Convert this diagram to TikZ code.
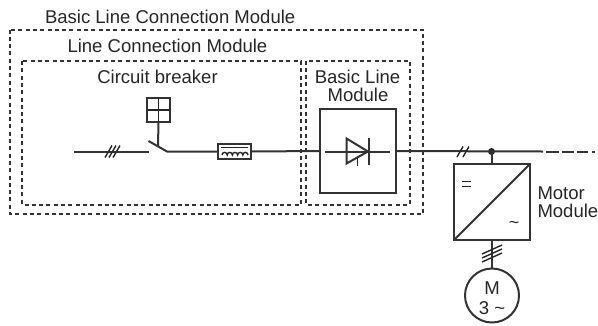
\documentclass[tikz,border=0pt]{standalone}
\usepackage{fontspec}
\setmainfont{Liberation Sans}
\tikzset{
 x=1bp,y=-1bp,
 wire/.style={line width=2bp,color=black!80},
 thin wire/.style={line width=1.4bp,color=black!85},
 dashbox/.style={line width=2bp,color=black!80,dash pattern=on 4bp off 3.3bp},
 solidbox/.style={draw,line width=2bp,color=black!80,inner sep=0pt,outer sep=0pt},
 lbl/.style={inner sep=0pt,outer sep=0pt,text=black!85,font=\fontsize{18.6}{18.6}\selectfont,anchor=base},
 lblw/.style={lbl,anchor=base west},
}
\begin{document}
\begin{tikzpicture}
\useasboundingbox (0,0) rectangle (598,325);
% dashed frames
\draw[dashbox] (10,29.5) rectangle (423,214);
\draw[dashbox] (22,61) rectangle (301,204.5);
\draw[dashbox] (306,60.5) rectangle (410,204.5);
% labels
\node[lblw] (t1) at (45,23) {Basic Line Connection Module};
\node[lblw] (t2) at (67.5,52) {Line Connection Module};
\node[lbl] (t3) at (157.5,83) {Circuit breaker};
\node[lbl] (t4) at (357.5,83) {Basic Line};
\node[lbl] (t5) at (358,101.5) {Module};
\node[lblw] (t6) at (537.5,199.5) {Motor};
\node[lblw] (t7) at (537.5,217) {Module};
% coordinates on the main line
\coordinate (start) at (74,151.5);
\coordinate (swL) at (149,151.5);
\coordinate (swR) at (167,151.5);
\coordinate (swT) at (148.5,141);
\coordinate (lineEnd) at (543,151.5);
% main components
\node[solidbox,minimum width=33bp,minimum height=15bp] (fuse) at (234.5,151.5) {};
\node[solidbox,minimum width=76bp,minimum height=84bp] (blm) at (358,151) {};
\node[solidbox,minimum width=76bp,minimum height=76bp] (mm) at (492,202) {};
\node[solidbox,circle,minimum size=54bp] (motor) at (492,295.5) {};
\node[solidbox,minimum width=23bp,minimum height=24bp,line width=1.6bp] (brk) at (158.5,110) {};
\node[fill=black!85,circle,inner sep=0pt,minimum size=7bp] (dot) at (491.5,151.5) {};
% wires
\draw[wire] (start) -- (swL);
\draw[wire] (swT) -- (swR) -- (fuse.west);
\draw[wire] (fuse.east) -- (blm.west);
\draw[wire] (blm.east) -- (lineEnd);
\draw[wire] (dot.center) -- (mm.north-|dot);
\draw[wire] (brk.south) -- (158,146);
\draw[thin wire] (brk.north) -- (brk.south);
\draw[thin wire] (brk.west) -- (brk.east);
\draw[wire] (546,151.5) -- (559,151.5);
\draw[wire] (561.5,151.5) -- (574,151.5);
\draw[wire] (577,151.5) -- (588,151.5);
\draw[wire] (592,151.5) -- (595,151.5);
% slashes
\foreach \d in {0,4,8}{\draw[thin wire] (105+\d,157.5) -- (112+\d,145.5);}
\foreach \d in {0,6}{\draw[thin wire] (457+\d,157) -- (463+\d,146.5);}
% fuse coil
\draw[thin wire] (221,147.5) -- (248,147.5);
\draw[thin wire] (222,155) arc[start angle=180,end angle=0,radius=2.6bp]
  arc[start angle=180,end angle=0,radius=2.6bp]
  arc[start angle=180,end angle=0,radius=2.6bp]
  arc[start angle=180,end angle=0,radius=2.6bp]
  arc[start angle=180,end angle=0,radius=2.6bp];
% diode
\draw[wire] (325,151.5) -- (390,151.5);
\draw[wire] (346.5,138.5) -- (346.5,163.5) -- (368,151.5) -- cycle;
\draw[wire] (369,138) -- (369,164.5);
\draw[thin wire] (357.5,157.5) -- (357.5,165.5);
% motor module interior
\draw[wire] (mm.south west) -- (mm.north east);
\draw[thin wire] (462,181.5) -- (471,181.5) (462,186.5) -- (471,186.5);
\node[lbl,font=\fontsize{18}{18}\selectfont] (tilde) at (514,228) {\textasciitilde};
% motor feed
\draw[wire] (mm.south-|motor) -- (motor.north);
\foreach \d in {0,4,8}{\draw[thin wire] (482,254+\d) -- (502,245+\d);}
\node[lbl] (mt1) at (492,294) {M};
\node[lbl] (mt2) at (492,314) {3 \textasciitilde};
\end{tikzpicture}
\end{document}
